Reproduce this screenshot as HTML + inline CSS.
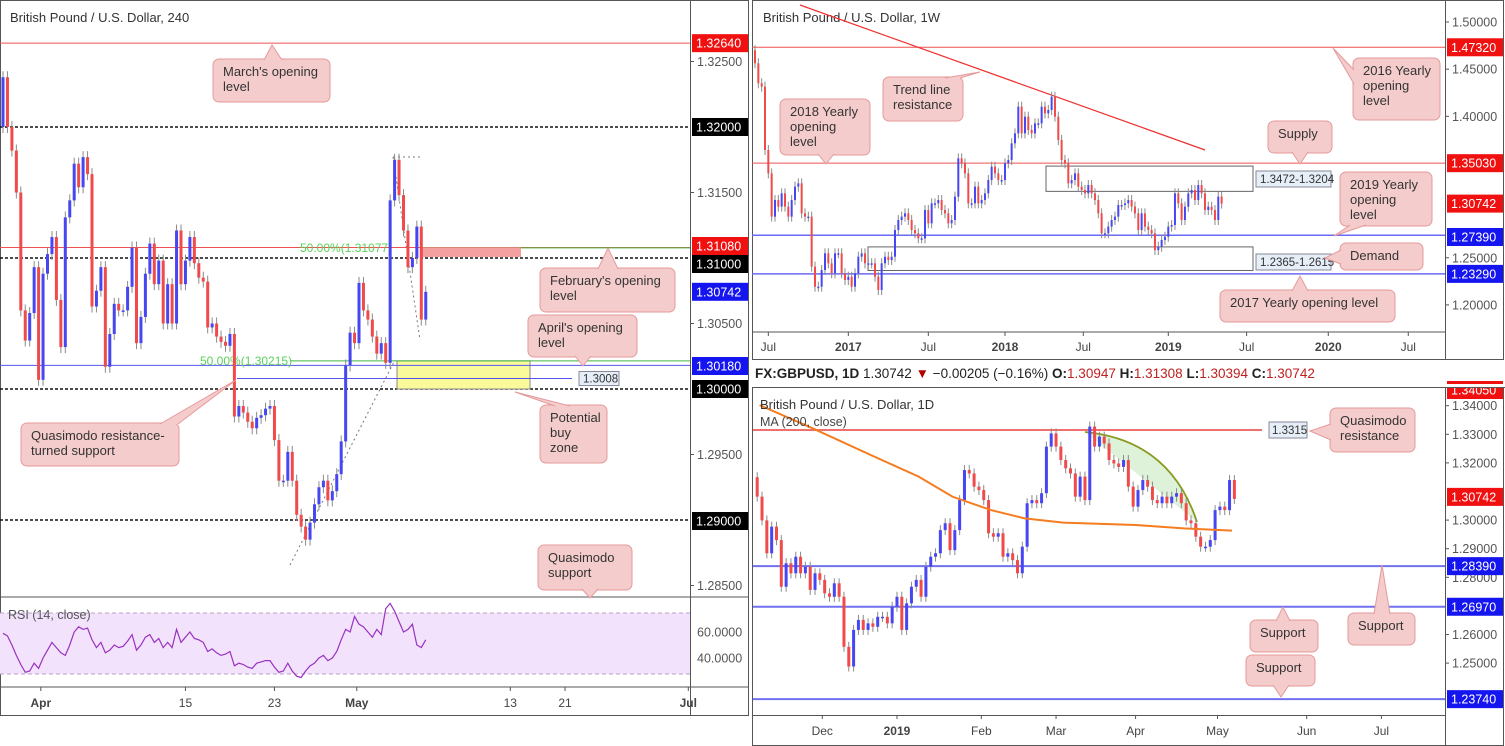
<!DOCTYPE html>
<html><head><meta charset="utf-8"><style>
html,body{margin:0;padding:0;background:#fff;}
svg{display:block;font-family:"Liberation Sans",sans-serif;}
</style></head><body>
<svg id="root" width="1505" height="746" viewBox="0 0 1505 746" xmlns="http://www.w3.org/2000/svg">
<rect x="0" y="0" width="1505" height="746" fill="#fff"/>
<g id="g4h"></g>
<g id="gw"></g>
<g id="gd"></g>
<g id="gann"></g>
</svg>
<script>
// ---------- DATA ----------
const leftOpen0 = 1.3200;
const leftCloses = [1.3238,1.3200,1.3182,1.3150,1.3060,1.3037,1.3058,1.3093,1.3007,1.3088,
1.3103,1.3116,1.3068,1.3032,1.3131,1.3144,1.3172,1.3154,1.3177,1.3164,
1.3063,1.3075,1.3093,1.3017,1.3042,1.3065,1.3060,1.3060,1.3078,1.3108,
1.3035,1.3055,1.3088,1.3111,1.3080,1.3098,1.3050,1.3080,1.3050,1.3121,
1.3080,1.3098,1.3116,1.3096,1.3085,1.3082,1.3047,1.3050,1.3040,1.3036,
1.3033,1.3042,1.2979,1.2987,1.2982,1.2975,1.2970,1.2978,1.2980,1.2985,
1.2987,1.2961,1.2930,1.2930,1.2952,1.2930,1.2904,1.2895,1.2885,1.2898,
1.2912,1.2925,1.2930,1.2915,1.2922,1.2935,1.2960,1.3018,1.3043,1.3035,
1.3081,1.3060,1.3053,1.3040,1.3027,1.3035,1.3020,1.3144,1.3175,1.3148,
1.3121,1.3093,1.3100,1.3124,1.3053,1.30742];
const leftRsi = [59,57,50,42,35,29,30,36,32,40,46,52,48,44,42,50,60,64,62,63,
54,48,52,44,46,50,48,49,53,58,46,50,56,58,52,55,48,52,48,62,
52,56,60,55,54,52,45,47,44,42,43,45,34,36,35,33,32,36,37,38,
38,33,29,30,36,30,26,25,30,34,36,40,42,38,40,45,54,62,60,72,
66,64,60,56,62,58,78,82,76,68,60,62,66,50,48,54];
const leftTickLabels = ["Apr","15","23","May","13","21","Jul"];
const leftTickIdx = [8.5,41,61,79.5,114,126.3,154];

const weeklyOpen0 = 1.4700;
const weeklyCloses = [1.4562,1.4350,1.4314,1.3643,1.3395,1.2936,1.3112,1.3042,1.3183,1.3042,
1.2936,1.3112,1.3254,1.3289,1.2971,1.2936,1.2936,1.2406,1.2193,1.2193,
1.2370,1.2547,1.2441,1.2335,1.2547,1.2547,1.2335,1.2264,1.2299,1.2193,
1.2335,1.2511,1.2547,1.2441,1.2441,1.2441,1.2299,1.2158,1.2441,1.2511,
1.2476,1.2511,1.2794,1.2900,1.2936,1.2971,1.2900,1.2794,1.2759,1.2706,
1.2706,1.3006,1.2865,1.3077,1.3077,1.3112,1.3006,1.2971,1.2865,1.2900,
1.3148,1.3554,1.3501,1.3395,1.3077,1.3077,1.3254,1.3077,1.3112,1.3183,
1.3324,1.3466,1.3395,1.3324,1.3324,1.3501,1.3537,1.3713,1.3819,1.4102,
1.3819,1.3996,1.3855,1.3819,1.3925,1.3925,1.4102,1.4031,1.4067,1.4208,
1.3996,1.3749,1.3537,1.3501,1.3289,1.3324,1.3395,1.3254,1.3218,1.3183,
1.3271,1.3183,1.3112,1.2971,1.2759,1.2759,1.2830,1.2900,1.2936,1.3059,
1.3059,1.3077,1.3112,1.3042,1.2971,1.2794,1.2971,1.2830,1.2794,1.2759,
1.2582,1.2617,1.2688,1.2723,1.2830,1.2847,1.3183,1.3077,1.2900,1.3042,
1.3183,1.3218,1.3112,1.3271,1.3183,1.3006,1.3042,1.3006,1.2900,1.3148,1.3074];
const weeklyTickLabels = ["Jul","2017","Jul","2018","Jul","2019","Jul","2020","Jul"];
const weeklyTickIdx = [4,28,52,75,98.5,124,147.5,172,196];

const dailyOpen0 = 1.3150;
const dailyCloses = [1.3082,1.2999,1.2884,1.2977,1.2930,1.2767,1.2849,1.2814,1.2872,1.2814,
1.2837,1.2756,1.2814,1.2791,1.2744,1.2732,1.2779,1.2732,1.2557,1.2488,
1.2616,1.2651,1.2616,1.2639,1.2627,1.2662,1.2662,1.2639,1.2697,1.2732,
1.2616,1.2709,1.2767,1.2791,1.2732,1.2837,1.2872,1.2884,1.2965,1.2989,
1.2895,1.2965,1.3070,1.3175,1.3163,1.3117,1.3105,1.3070,1.2954,1.2942,
1.2954,1.2872,1.2884,1.2860,1.2814,1.2907,1.3059,1.3070,1.3059,1.3094,
1.3257,1.3303,1.3257,1.3210,1.3181,1.3163,1.3082,1.3152,1.3070,1.3327,
1.3257,1.3292,1.3268,1.3210,1.3198,1.3186,1.3210,1.3117,1.3047,1.3105,
1.3140,1.3117,1.3070,1.3059,1.3082,1.3059,1.3082,1.3094,1.3059,1.2999,
1.2989,1.2942,1.2907,1.2907,1.2930,1.3035,1.3047,1.3035,1.3140,1.3074];
const dailyMaIdx = [0.5,11.5,23.5,33.5,40.5,48.5,55.5,63.5,78.5,88.5,98.5];
const dailyMaVals = [1.3402,1.3321,1.3228,1.3152,1.3082,1.3035,1.3006,1.2991,1.2983,1.2971,1.2963];
const dailyTickLabels = ["Dec","2019","Feb","Mar","Apr","May","Jun","Jul"];
const dailyTickIdx = [13.5,29,46.5,62,78.5,95.5,114,129.5];

// ---------- SCALES ----------
const Lx = i => 3 + 4.45*i;
const Ly = p => 127 + (1.32-p)*13100;
const Ry = v => 632 - (v-60)*1.3;
const Wx = i => 755 + 3.333*i;
const Wy = p => 22 + (1.5-p)*943;
const Dx = i => 757.2 + 4.82*i;
const Dy = p => 405.7 + (1.34-p)*2860;

const NS = "http://www.w3.org/2000/svg";
function mk(tag, attrs, parent){
  const e = document.createElementNS(NS, tag);
  for (const k in attrs) e.setAttribute(k, attrs[k]);
  parent.appendChild(e);
  return e;
}
const UP = "#4646f2", DN = "#f04a4a", WICK = "#8a8a8a";

function drawCandles(g, open0, closes, xf, yf, w, wick, prefix){
  let o = open0;
  closes.forEach((c, i) => {
    const x = xf(i);
    const hi = Math.max(o,c), lo = Math.min(o,c);
    const grp = mk('g', {}, g);
    
    
    mk('line', {x1:x, x2:x, y1:yf(hi)-wick, y2:yf(lo)+wick, stroke:WICK, 'stroke-width':1}, grp);
    const y1 = yf(hi), h = Math.max(1.5, yf(lo)-yf(hi));
    mk('rect', {x:x-w/2, y:y1, width:w, height:h, fill: c>=o?UP:DN}, grp);
    o = c;
  });
}
function txt(parent, x, y, s, attrs, name){
  const t = mk('text', Object.assign({x:x, y:y, 'font-size':12, fill:'#555'}, attrs||{}), parent);
  t.textContent = s;
  
  
  return t;
}
function hline(parent, x1, x2, y, color, w, dash, name){
  const l = mk('line', {x1:x1, x2:x2, y1:y, y2:y, stroke:color, 'stroke-width':w||1}, parent);
  if (dash) l.setAttribute('stroke-dasharray', dash);
  
  
  return l;
}
function axLabel(parent, x, y, s, bg, fg, w, name){
  const g = mk('g', {}, parent);
  
  
  if (bg) mk('rect', {x:x, y:y-9, width:w, height:18, fill:bg}, g);
  const t = mk('text', {x:x+4, y:y+4.5, 'font-size':12.5, fill:fg}, g);
  t.textContent = s;
  return g;
}

// ---------- LEFT 4H ----------
const g4 = document.getElementById('g4h');
mk('rect',{x:0.5,y:0.5,width:748,height:715,fill:'none',stroke:'#555'},g4);
hline(g4,0,749,597,'#555',1,null,'rsi-pane-divider');
hline(g4,0,749,687,'#555',1,null,'time-axis-line');
mk('line',{x1:690.5,x2:690.5,y1:0,y2:716,stroke:'#555'},g4);
txt(g4,10,22,'British Pound / U.S. Dollar, 240',{'font-size':13,fill:'#333'},'chart-title-4h');

hline(g4,0,690,Ly(1.3264),'#f05050',1,null,'march-open-line');
[1.32,1.31,1.30,1.29].forEach(p=>hline(g4,0,690,Ly(p),'#111',1.6,'3,2','round-number-line'));
hline(g4,0,690,Ly(1.3108),'#f05050',1,null,'feb-open-line');
hline(g4,421,690,Ly(1.31077),'#3fb83f',1,null,'fib-50-upper-line');
txt(g4,300,Ly(1.31077)+4,'50.00%(1.31077)',{fill:'#5ad15a','font-size':12},'fib-50-upper-label');
const pink = mk('rect',{x:421,y:Ly(1.3108),width:100,height:Ly(1.31)-Ly(1.3108)-1,fill:'#f5a0a0'},g4);


const yz = mk('rect',{x:397,y:Ly(1.30215),width:133,height:Ly(1.30)-Ly(1.30215),fill:'#fafa9a',stroke:'#888'},g4);


hline(g4,0,690,Ly(1.3018),'#5555ee',1,null,'april-open-line');
hline(g4,290,690,Ly(1.30215),'#3fb83f',1,null,'fib-50-lower-line');
txt(g4,200,Ly(1.30215)+4,'50.00%(1.30215)',{fill:'#5ad15a','font-size':12},'fib-50-lower-label');
hline(g4,237,572,Ly(1.3008),'#5555ee',1,null,'level-1-3008-line');
const lb = mk('g',{},g4);


mk('rect',{x:579,y:Ly(1.3008)-7,width:40,height:14,fill:'#e6eef8',stroke:'#889'},lb);
const lbt = mk('text',{x:583,y:Ly(1.3008)+4,'font-size':11.5,fill:'#333'},lb); lbt.textContent='1.3008';
[[290,565,395,360],[393,157,420,340],[393,157,421,157]].forEach(a=>{
  const l=mk('line',{x1:a[0],y1:a[1],x2:a[2],y2:a[3],stroke:'#777','stroke-dasharray':'2,3'},g4);
  
  
});
const c4 = mk('g',{},g4);


drawCandles(c4, leftOpen0, leftCloses, Lx, Ly, 3, 6, '4h');

const rb = mk('rect',{x:0,y:613,width:690,height:61,fill:'#f3e2fb'},g4);


hline(g4,0,690,613,'#b9a0c8',1,'4,3','rsi-upper-band');
hline(g4,0,690,674,'#b9a0c8',1,'4,3','rsi-lower-band');
txt(g4,8,619,'RSI (14, close)',{'font-size':12.5,fill:'#555'},'rsi-title');
const rp = mk('polyline',{points:leftRsi.map((v,i)=>Lx(i)+','+Ry(v)).join(' '),fill:'none',stroke:'#9932c0','stroke-width':1.2},g4);



leftTickLabels.forEach((s,k)=>{
  const x = Lx(leftTickIdx[k]);
  mk('line',{x1:x,x2:x,y1:687,y2:691,stroke:'#555'},g4);
  txt(g4,x,707,s,{'text-anchor':'middle','font-size':12,'font-weight':s==='Apr'||s==='May'||s==='Jul'?'bold':'normal',fill:'#444'},'time-tick-label');
});
[[1.325,'1.32500'],[1.315,'1.31500'],[1.305,'1.30500'],[1.295,'1.29500'],[1.285,'1.28500']].forEach(a=>{
  mk('line',{x1:690,x2:694,y1:Ly(a[0]),y2:Ly(a[0]),stroke:'#555'},g4);
  axLabel(g4,693,Ly(a[0]),a[1],null,'#555',54,'price-tick-label');
});
axLabel(g4,692,Ly(1.3264),'1.32640','#f01010','#fff',56,'price-label-march-open');
axLabel(g4,692,Ly(1.32),'1.32000','#000','#fff',56,'price-label-1-32');
axLabel(g4,692,246,'1.31080','#f01010','#fff',56,'price-label-feb-open');
axLabel(g4,692,264,'1.31000','#000','#fff',56,'price-label-1-31');
axLabel(g4,692,Ly(1.30742),'1.30742','#1515f0','#fff',56,'price-label-current');
axLabel(g4,692,366,'1.30180','#1515f0','#fff',56,'price-label-april-open');
axLabel(g4,692,389,'1.30000','#000','#fff',56,'price-label-1-30');
axLabel(g4,692,521,'1.29000','#000','#fff',56,'price-label-1-29');
axLabel(g4,693,632,'60.0000',null,'#555',54,'rsi-tick-60');
axLabel(g4,693,658,'40.0000',null,'#555',54,'rsi-tick-40');

// ---------- RIGHT TOP WEEKLY ----------
const gw = document.getElementById('gw');
mk('rect',{x:752.5,y:0.5,width:751,height:359,fill:'none',stroke:'#555'},gw);
mk('line',{x1:1445.5,x2:1445.5,y1:0,y2:360,stroke:'#555'},gw);
hline(gw,752,1445,332,'#555',1,null,'weekly-time-axis-line');
txt(gw,763,22,'British Pound / U.S. Dollar, 1W',{'font-size':13,fill:'#333'},'chart-title-weekly');
hline(gw,752,1445,Wy(1.4732),'#f05050',1,null,'yearly-open-2016-line');
hline(gw,752,1445,Wy(1.3503),'#f05050',1,null,'yearly-open-2018-line');
hline(gw,752,1445,Wy(1.2739),'#6a6af5',1.5,null,'yearly-open-2019-line');
hline(gw,752,1445,Wy(1.2329),'#6a6af5',1.5,null,'yearly-open-2017-line');
const tl = mk('line',{x1:800,y1:5,x2:1205,y2:150,stroke:'#f03030','stroke-width':1.2},gw);


const sup = mk('rect',{x:1046,y:Wy(1.3472),width:207,height:Wy(1.3204)-Wy(1.3472),fill:'none',stroke:'#666'},gw);


const dem = mk('rect',{x:868,y:Wy(1.2615),width:385,height:Wy(1.2365)-Wy(1.2615),fill:'none',stroke:'#666'},gw);


[['1.3472-1.3204',179,'supply-range-label'],['1.2365-1.2615',262,'demand-range-label']].forEach(a=>{
  const g=mk('g',{},gw);
  
  
  mk('rect',{x:1256,y:a[1]-8,width:75,height:16,fill:'#e6eef8',stroke:'#889'},g);
  const t=mk('text',{x:1260,y:a[1]+4,'font-size':11.5,fill:'#333'},g); t.textContent=a[0];
});
const cw = mk('g',{},gw);


drawCandles(cw, weeklyOpen0, weeklyCloses, Wx, Wy, 2, 5, 'weekly');
weeklyTickLabels.forEach((s,k)=>{
  const x = Wx(weeklyTickIdx[k]);
  mk('line',{x1:x,x2:x,y1:332,y2:336,stroke:'#555'},gw);
  txt(gw,x,351,s,{'text-anchor':'middle','font-size':12,'font-weight':/^20/.test(s)?'bold':'normal',fill:'#444'},'time-tick-label');
});
[[1.5,'1.50000'],[1.45,'1.45000'],[1.4,'1.40000'],[1.25,'1.25000'],[1.2,'1.20000']].forEach(a=>{
  mk('line',{x1:1445,x2:1449,y1:Wy(a[0]),y2:Wy(a[0]),stroke:'#555'},gw);
  axLabel(gw,1448,Wy(a[0]),a[1],null,'#555',54,'price-tick-label');
});
axLabel(gw,1447,Wy(1.4732),'1.47320','#f01010','#fff',56,'price-label-2016-open');
axLabel(gw,1447,Wy(1.3503),'1.35030','#f01010','#fff',56,'price-label-2018-open');
axLabel(gw,1447,Wy(1.30742),'1.30742','#f01010','#fff',56,'price-label-current');
axLabel(gw,1447,237,'1.27390','#1515f0','#fff',56,'price-label-2019-open');
axLabel(gw,1447,Wy(1.2329),'1.23290','#1515f0','#fff',56,'price-label-2017-open');

// header
const hdr = mk('text',{x:755,y:378,'font-size':13.5,fill:'#222'},document.getElementById('root'));


hdr.innerHTML = '<tspan font-weight="bold">FX:GBPUSD, 1D</tspan> 1.30742 <tspan fill="#b00000">▼</tspan> −0.00205 (−0.16%) <tspan font-weight="bold">O:</tspan><tspan fill="#c02020">1.30947</tspan> <tspan font-weight="bold">H:</tspan><tspan fill="#c02020">1.31308</tspan> <tspan font-weight="bold">L:</tspan><tspan fill="#c02020">1.30394</tspan> <tspan font-weight="bold">C:</tspan><tspan fill="#c02020">1.30742</tspan>';

// ---------- RIGHT BOTTOM DAILY ----------
const gd = document.getElementById('gd');
mk('rect',{x:752.5,y:387.5,width:751,height:358,fill:'none',stroke:'#555'},gd);
mk('line',{x1:1445.5,x2:1445.5,y1:387,y2:746,stroke:'#555'},gd);
hline(gd,752,1445,715.5,'#555',1,null,'daily-time-axis-line');
const cp = mk('clipPath',{id:'dclip'},gd);
mk('rect',{x:753,y:388,width:692,height:327},cp);
const gdc = mk('g',{'clip-path':'url(#dclip)'},gd);


hline(gdc,753,1262,Dy(1.3315),'#f07070',2,null,'quasimodo-resistance-line');
hline(gdc,753,1445,Dy(1.2839),'#7070f0',2,null,'support-1-2839-line');
hline(gdc,753,1445,Dy(1.2697),'#7070f0',2,null,'support-1-2697-line');
hline(gdc,753,1445,Dy(1.2374),'#7070f0',2,null,'support-1-2374-line');
const arc = mk('path',{d:'M1085,432 Q1170,440 1197,522 Z',fill:'#d6efcf','fill-opacity':0.8,stroke:'none'},gdc);


const arcL = mk('path',{d:'M1085,432 Q1170,440 1197,522',fill:'none',stroke:'#8a9a20','stroke-width':1.8},gdc);


const cd = mk('g',{},gdc);


drawCandles(cd, dailyOpen0, dailyCloses, Dx, Dy, 3, 5, 'daily');
const ma = mk('polyline',{points:dailyMaIdx.map((v,k)=>Dx(v)+','+Dy(dailyMaVals[k])).join(' '),fill:'none',stroke:'#f57c1f','stroke-width':2},gdc);


txt(gd,760,409,'British Pound / U.S. Dollar, 1D',{'font-size':13,fill:'#333'},'chart-title-daily');
txt(gd,760,426,'MA (200, close)',{'font-size':12.5,fill:'#444'},'ma-legend');
const ql = mk('g',{},gd);


mk('rect',{x:1269,y:Dy(1.3315)-8,width:38,height:16,fill:'#e6eef8',stroke:'#889'},ql);
const qlt = mk('text',{x:1272,y:Dy(1.3315)+4,'font-size':11.5,fill:'#333'},ql); qlt.textContent='1.3315';
dailyTickLabels.forEach((s,k)=>{
  const x = Dx(dailyTickIdx[k]);
  mk('line',{x1:x,x2:x,y1:715,y2:719,stroke:'#555'},gd);
  txt(gd,x,735,s,{'text-anchor':'middle','font-size':12,'font-weight':s==='2019'?'bold':'normal',fill:'#444'},'time-tick-label');
});
[[1.34,'1.34000'],[1.33,'1.33000'],[1.32,'1.32000'],[1.30,'1.30000'],[1.29,'1.29000'],[1.28,'1.28000'],[1.26,'1.26000'],[1.25,'1.25000']].forEach(a=>{
  mk('line',{x1:1445,x2:1449,y1:Dy(a[0]),y2:Dy(a[0]),stroke:'#555'},gd);
  axLabel(gd,1448,Dy(a[0]),a[1],null,'#555',54,'price-tick-label');
});
axLabel(gd,1447,390,'1.34050','#f01010','#fff',56,'price-label-top');
axLabel(gd,1447,Dy(1.30742)-2,'1.30742','#f01010','#fff',56,'price-label-current');
axLabel(gd,1447,Dy(1.2839),'1.28390','#1515f0','#fff',56,'price-label-1-2839');
axLabel(gd,1447,Dy(1.2697),'1.26970','#1515f0','#fff',56,'price-label-1-2697');
axLabel(gd,1447,Dy(1.2374),'1.23740','#1515f0','#fff',56,'price-label-1-2374');
mk('rect',{x:752,y:384,width:753,height:3,fill:'#fff'},gd);
mk('line',{x1:752,x2:1505,y1:387.5,y2:387.5,stroke:'#555'},gd);

// ---------- CALLOUTS ----------
const ga = document.getElementById('gann');
function callout(name, x, y, w, h, lines, base, tip){
  const g = mk('g',{},ga);
  
  
  mk('rect',{x:x,y:y,width:w,height:h,rx:6,fill:'#f5cccc',stroke:'#e59a9a'},g);
  mk('polygon',{points:`${base[0]},${base[1]} ${tip[0]},${tip[1]} ${base[2]},${base[3]}`,fill:'#f5cccc'},g);
  mk('polyline',{points:`${base[0]},${base[1]} ${tip[0]},${tip[1]} ${base[2]},${base[3]}`,fill:'none',stroke:'#e59a9a'},g);
  lines.forEach((s,k)=>{
    const t = mk('text',{x:x+10,y:y+17+k*15,'font-size':13,fill:'#333'},g);
    t.textContent = s;
  });
}
callout('march-open-callout',213,59,117,43,["March's opening","level"],[264,60,282,60],[272,45]);
callout('feb-open-callout',540,268,135,44,["February's opening","level"],[598,269,618,269],[608,248]);
callout('april-open-callout',528,315,109,42,["April's opening","level"],[575,356,591,356],[583,366]);
callout('buy-zone-callout',540,405,67,58,["Potential","buy","zone"],[555,406,570,406],[515,392]);
callout('qm-turned-support-callout',21,423,158,43,["Quasimodo resistance-","turned support"],[160,424,178,424],[236,380]);
callout('qm-support-callout',538,545,94,45,["Quasimodo","support"],[582,589,598,589],[590,598]);
callout('trend-line-callout',883,77,80,44,["Trend line","resistance"],[945,78,960,78],[980,72]);
callout('yearly-2018-callout',780,99,90,56,["2018 Yearly","opening","level"],[818,154,834,154],[826,164]);
callout('yearly-2016-callout',1353,58,87,62,["2016 Yearly","opening","level"],[1354,70,1354,84],[1333,48]);
callout('supply-callout',1268,121,64,32,["Supply"],[1292,152,1308,152],[1300,164]);
callout('yearly-2019-callout',1340,172,92,54,["2019 Yearly","opening","level"],[1350,225,1366,225],[1334,236]);
callout('demand-callout',1340,243,83,27,["Demand"],[1341,250,1341,264],[1325,258]);
callout('yearly-2017-callout',1220,290,175,32,["2017 Yearly opening level"],[1292,291,1308,291],[1300,276]);
callout('qm-resistance-callout',1330,408,85,44,["Quasimodo","resistance"],[1331,424,1331,440],[1310,431]);
callout('support-callout-right',1348,613,67,32,["Support"],[1374,614,1390,614],[1382,565]);
callout('support-callout-middle',1250,620,68,32,["Support"],[1276,621,1290,621],[1283,607]);
callout('support-callout-bottom',1246,655,69,31,["Support"],[1273,685,1289,685],[1281,697]);
</script>
</body></html>
